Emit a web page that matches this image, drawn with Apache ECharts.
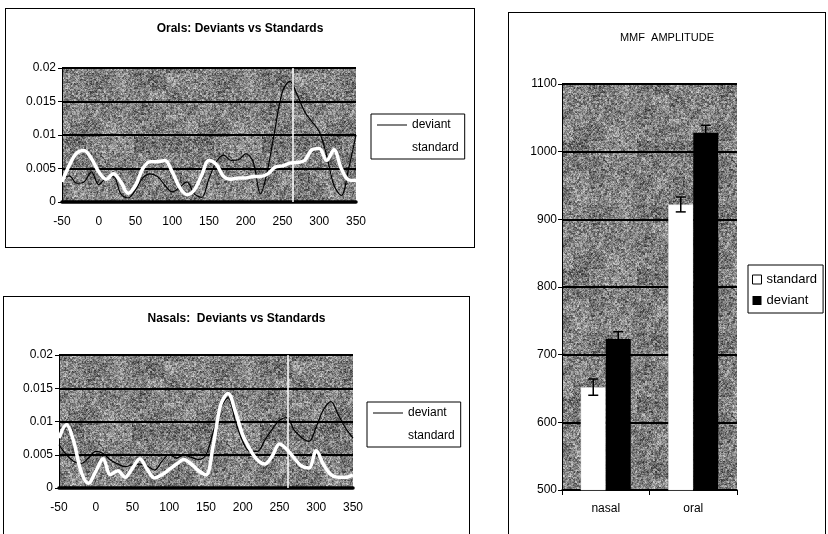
<!DOCTYPE html>
<html><head><meta charset="utf-8">
<script src="https://cdn.jsdelivr.net/npm/echarts@6/dist/echarts.min.js"></script>
<style>
html,body{margin:0;padding:0;background:#fff;width:828px;height:534px;overflow:hidden;}
.frame{position:absolute;border:1px solid #000;box-sizing:border-box;background:#fff;}
.frame>div{position:absolute;left:0;top:0;width:100%;height:100%;}
</style></head><body>
<div class="frame" style="left:5px;top:8px;width:470px;height:240px"><div id="c1"></div></div>
<div class="frame" style="left:3px;top:296px;width:467px;height:260px"><div id="c2"></div></div>
<div class="frame" style="left:508px;top:12px;width:318px;height:540px"><div id="c3"></div></div>
<script>
// ---------- data ----------
const times = [-50,-40,-30,-20,-10,0,10,20,30,40,50,60,70,80,90,100,110,120,130,140,150,160,170,180,190,200,210,220,230,240,250,260,270,280,290,300,310,320,330,340,350];

const oralDeviant = [0.0036,0.0039,0.0028,0.0030,0.0045,0.0026,0.0036,0.0038,0.0012,0.0006,0.0018,0.0036,0.0042,0.0038,0.0025,0.0015,0.0022,0.0030,0.0012,0.0007,0.0035,0.0060,0.0070,0.0062,0.0063,0.0072,0.0060,0.0012,0.0050,0.0110,0.0165,0.0180,0.0160,0.0135,0.0120,0.0105,0.0070,0.0025,0.0010,0.0050,0.0100];
const oralStandard = [0.0030,0.0055,0.0073,0.0077,0.0065,0.0045,0.0034,0.0042,0.0030,0.0013,0.0025,0.0050,0.0060,0.0060,0.0062,0.0045,0.0022,0.0011,0.0018,0.0040,0.0062,0.0056,0.0038,0.0034,0.0036,0.0036,0.0038,0.0038,0.0042,0.0052,0.0054,0.0058,0.0059,0.0062,0.0078,0.0080,0.0062,0.0078,0.0050,0.0033,0.0032];

const nasalDeviant = [0.0065,0.0050,0.0040,0.0037,0.0045,0.0055,0.0052,0.0042,0.0036,0.0032,0.0035,0.0036,0.0033,0.0027,0.0040,0.0050,0.0045,0.0050,0.0046,0.0043,0.0050,0.0085,0.0120,0.0136,0.0100,0.0070,0.0055,0.0055,0.0072,0.0088,0.0102,0.0106,0.0087,0.0076,0.0070,0.0092,0.0118,0.0130,0.0110,0.0090,0.0075];
const nasalStandard = [0.0075,0.0095,0.0070,0.0025,0.0007,0.0025,0.0044,0.0020,0.0026,0.0016,0.0030,0.0044,0.0028,0.0015,0.0020,0.0028,0.0036,0.0043,0.0036,0.0026,0.0020,0.0065,0.0125,0.0142,0.0115,0.0080,0.0058,0.0042,0.0036,0.0048,0.0066,0.0058,0.0045,0.0033,0.0030,0.0056,0.0035,0.0020,0.0016,0.0016,0.0020];

const oralMarker = 264;
const nasalMarker = 261;

const xTicks = [-50, 350, 50];          // min, max, step
const yTicks = [0, 0.02, 0.005];

const barCategories = ['nasal', 'oral'];
const standardMean = [652, 922];
const deviantMean = [723, 1028];
const standardErr = [12, 11];
const deviantErr = [11, 11];
const barTicks = [500, 1100, 100];

// ---------- style ----------
const FONT = '"Liberation Sans", Arial, sans-serif';
const BAR_W = 25;

// deterministic grainy grey texture for the plot areas (scanned look)
function hash(x, y, a, b, c){ return Math.abs(Math.sin(x * a + y * b) * c) % 1; }
function makeTexture(){
  const n = 128, cv = document.createElement('canvas');
  cv.width = n; cv.height = n;
  const ctx = cv.getContext('2d');
  const img = ctx.createImageData(n, n);
  for (let y = 0; y < n; y++) for (let x = 0; x < n; x++){
    const fine = hash(x, y, 12.9898, 78.233, 43758.5453);
    const coarse = hash(x >> 1, y >> 1, 39.346, 11.135, 24634.6345);
    const blot = hash(x >> 4, y >> 4, 7.13, 3.71, 9182.31);
    let v = 128 + (fine - 0.5) * 80 + (coarse - 0.5) * 70 + (blot - 0.5) * 30;
    v = Math.max(35, Math.min(215, v));
    const k = (y * n + x) * 4;
    img.data[k] = img.data[k+1] = img.data[k+2] = v; img.data[k+3] = 255;
  }
  ctx.putImageData(img, 0, 0);
  return {image: cv, repeat: 'repeat'};
}
const PLOT_BG = makeTexture();
const LINE_ICON = 'path://M0,0 L30,0 L30,1 L0,1 Z';

function zip(xs, ys){ return xs.map((x,i)=>[x, ys[i]]); }

function lineOption(title, titleTop, grid, legendPos, dev, std, marker){
  return {
    animation:false,
    title:{text:title,left:'center',top:titleTop,textStyle:{fontFamily:FONT,fontSize:12,fontWeight:'bold',color:'#000'}},
    grid:Object.assign({show:true,backgroundColor:PLOT_BG,borderWidth:0}, grid),
    legend:{orient:'vertical',left:legendPos[0],top:legendPos[1],backgroundColor:'#fff',borderColor:'#000',borderWidth:1,
      padding:[5,6,5,6],itemWidth:30,itemHeight:14,itemGap:11,symbolKeepAspect:true,
      textStyle:{fontFamily:FONT,fontSize:12,color:'#000'},
      data:[{name:'deviant',icon:LINE_ICON,itemStyle:{color:'#000'}},{name:'standard',icon:LINE_ICON,itemStyle:{color:'#fff'}}]},
    xAxis:{type:'value',min:xTicks[0],max:xTicks[1],interval:xTicks[2],
      axisLine:{show:true,onZero:false,lineStyle:{color:'#000',width:3.5}},
      axisTick:{show:false},splitLine:{show:false},
      axisLabel:{color:'#000',fontSize:12,fontFamily:FONT,margin:14}},
    yAxis:{type:'value',min:yTicks[0],max:yTicks[1],interval:yTicks[2],
      axisLine:{show:true,onZero:false,lineStyle:{color:'#000',width:1}},
      axisTick:{show:true,length:4,lineStyle:{color:'#000'}},
      splitLine:{show:true,lineStyle:{color:'#000',width:2}},
      axisLabel:{color:'#000',fontSize:12,fontFamily:FONT,margin:6}},
    series:[
      {name:'deviant',type:'line',data:zip(times,dev),smooth:0.35,symbol:'none',
        lineStyle:{color:'#000',width:1.2},itemStyle:{color:'#000'}},
      {name:'standard',type:'line',data:zip(times,std),smooth:0.35,symbol:'none',
        lineStyle:{color:'#fff',width:3.5},itemStyle:{color:'#fff'},
        markLine:{silent:true,symbol:'none',label:{show:false},
          lineStyle:{color:'#fff',width:1.5,type:'solid'},data:[{xAxis:marker}]}}
    ]
  };
}

const c1 = echarts.init(document.getElementById('c1'));
c1.setOption(lineOption('Orals: Deviants vs Standards', 9,
  {left:56,top:59,width:294,height:134}, [365,105], oralDeviant, oralStandard, oralMarker));

const c2 = echarts.init(document.getElementById('c2'));
c2.setOption(lineOption('Nasals:  Deviants vs Standards', 11,
  {left:55,top:58,width:294,height:133}, [363,105], nasalDeviant, nasalStandard, nasalMarker));

function errorSeries(name, means, errs, side){
  return {name:name+'-err',type:'custom',z:10,
    data:means.map((m,i)=>[i, m-errs[i], m+errs[i]]),
    encode:{x:0,y:[1,2]},
    renderItem:function(params, api){
      const lo = api.coord([api.value(0), api.value(1)]);
      const hi = api.coord([api.value(0), api.value(2)]);
      const x = lo[0] + side*BAR_W/2, cap = 5;
      const st = {stroke:'#000',lineWidth:1.5};
      return {type:'group',children:[
        {type:'line',shape:{x1:x,y1:lo[1],x2:x,y2:hi[1]},style:st},
        {type:'line',shape:{x1:x-cap,y1:hi[1],x2:x+cap,y2:hi[1]},style:st},
        {type:'line',shape:{x1:x-cap,y1:lo[1],x2:x+cap,y2:lo[1]},style:st}
      ]};
    }};
}

const c3 = echarts.init(document.getElementById('c3'));
c3.setOption({
  animation:false,
  title:{text:'MMF  AMPLITUDE',left:'center',top:14,textStyle:{fontFamily:FONT,fontSize:11,fontWeight:'normal',color:'#000'}},
  grid:{left:53,top:71,width:175,height:406,show:true,backgroundColor:PLOT_BG,borderWidth:0},
  legend:{orient:'vertical',left:239,top:252,backgroundColor:'#fff',borderColor:'#000',borderWidth:1,
    padding:[8,6,6,4],itemWidth:9,itemHeight:9,itemGap:8,icon:'rect',
    textStyle:{fontFamily:FONT,fontSize:13,color:'#000'},
    data:[{name:'standard',itemStyle:{color:'#fff',borderColor:'#000',borderWidth:1}},{name:'deviant'}]},
  xAxis:{type:'category',data:barCategories,
    axisLine:{show:true,lineStyle:{color:'#000',width:1.5}},
    axisTick:{show:true,length:5,lineStyle:{color:'#000'}},
    axisLabel:{color:'#000',fontSize:12,fontFamily:FONT,margin:13}},
  yAxis:{type:'value',min:barTicks[0],max:barTicks[1],interval:barTicks[2],
    axisLine:{show:true,lineStyle:{color:'#000',width:1}},
    axisTick:{show:true,length:4,lineStyle:{color:'#000'}},
    splitLine:{show:true,lineStyle:{color:'#000',width:2}},
    axisLabel:{color:'#000',fontSize:12,fontFamily:FONT,margin:5,formatter:function(v){return String(v);}}},
  series:[
    {name:'standard',type:'bar',data:standardMean,barWidth:BAR_W,barGap:'0%',
      itemStyle:{color:'#fff',borderColor:'#ddd',borderWidth:0.5}},
    {name:'deviant',type:'bar',data:deviantMean,barWidth:BAR_W,barGap:'0%',
      itemStyle:{color:'#000'}},
    errorSeries('standard',standardMean,standardErr,-1),
    errorSeries('deviant',deviantMean,deviantErr,1)
  ]
});
</script>
</body></html>
